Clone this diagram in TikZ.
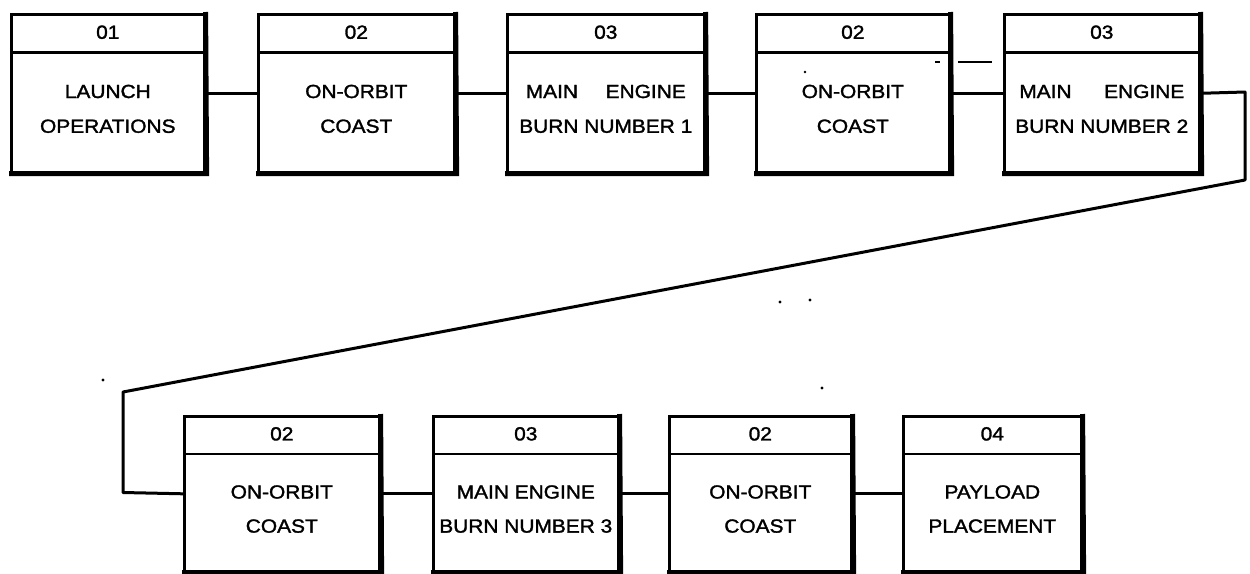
\documentclass[tikz,border=0pt]{standalone}
\usepackage{fontspec}
\setmainfont{Liberation Sans}[FakeStretch=1.1,FakeBold=1.6]
\tikzset{
  stagebox/.style={draw=black, line width=2.6pt, rectangle, inner sep=0pt},
  heavyedge/.style={line width=5pt},
  divider/.style={line width=2.2pt},
  numlabel/.style={inner sep=0pt, font=\fontsize{19}{19}\selectfont, text height=13.6pt, text depth=0pt},
  bodyline/.style={inner sep=0pt, font=\fontsize{19}{19}\selectfont, text height=13.6pt, text depth=0pt},
  link/.style={line width=3pt},
  speck/.style={line width=1.6pt},
}
% #1 name, #2 left, #3 right, #4 top, #5 height, #6 number, #7 line 1, #8 line 2
\newcommand{\stagenode}[8]{%
  \node[stagebox, minimum width={#3-#2}, minimum height={#5}, anchor=north west] (#1) at (#2,#4) {};
  \draw[heavyedge] ([xshift=-1pt]#1.south west) -- ([xshift=1pt]#1.south east) -- ([yshift=1pt]#1.north east);
  \draw[divider] ([yshift={-0.25*#5}]#1.north west) -- ([yshift={-0.25*#5}]#1.north east);
  \node[numlabel] (#1num) at ([yshift={-0.12*#5}]#1.north) {#6};
  \node[bodyline] (#1a) at ([yshift={-0.495*#5}]#1.north) {#7};
  \node[bodyline] (#1b) at ([yshift={-0.715*#5}]#1.north) {#8};
}
\begin{document}
\begin{tikzpicture}[x=1pt,y=-1pt]
\useasboundingbox[fill=white] (0,0) rectangle (1250,573);
% top row
\stagenode{b1}{10}{203}{13}{158}{01}{LAUNCH}{OPERATIONS}
\stagenode{b2}{257}{453}{13}{158}{02}{ON-ORBIT}{COAST}
\stagenode{b3}{506}{703}{13}{158}{03}{\makebox[160pt][s]{MAIN\hfill ENGINE}}{BURN NUMBER 1}
\stagenode{b4}{755}{948}{13}{158}{02}{ON-ORBIT}{COAST}
\stagenode{b5}{1003}{1198}{13}{158}{03}{\makebox[165pt][s]{MAIN\hfill ENGINE}}{BURN NUMBER 2}
% bottom row
\stagenode{b6}{183}{378}{415}{155}{02}{ON-ORBIT}{COAST}
\stagenode{b7}{432}{617}{415}{155}{03}{MAIN ENGINE}{BURN NUMBER 3}
\stagenode{b8}{668}{850}{415}{155}{02}{ON-ORBIT}{COAST}
\stagenode{b9}{902}{1080}{415}{155}{04}{PAYLOAD}{PLACEMENT}
% connectors
\draw[link] (b1.east) -- (b2.west);
\draw[link] (b2.east) -- (b3.west);
\draw[link] (b3.east) -- (b4.west);
\draw[link] (b4.east) -- (b5.west);
\coordinate (r1) at (1245,92);
\coordinate (r2) at (1245,180);
\coordinate (l1) at (123,392);
\coordinate (l2) at (123,492.5);
\draw[link, line join=round] (b5.east) -- (r1) -- (r2) -- (l1) -- (l2) -- (b6.west);
\draw[link] (b6.east) -- (b7.west);
\draw[link] (b7.east) -- (b8.west);
\draw[link] (b8.east) -- (b9.west);
% scan specks
\draw[speck] (958,62) -- (992,62);
\draw[speck] (935,62) -- (940,62);
\fill (780,302) circle (1.6);
\fill (810,300) circle (1.6);
\fill (822,388) circle (1.6);
\fill (103,380) circle (1.6);
\fill (805,72) circle (1.3);
\end{tikzpicture}
\end{document}
